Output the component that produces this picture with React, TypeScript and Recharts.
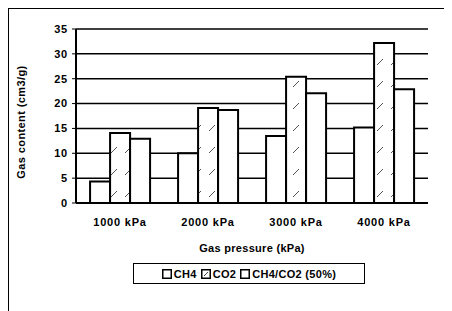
import React from "react";
import { Bar, BarChart, CartesianGrid, Legend, XAxis, YAxis } from "recharts";

const pressures = ["1000 kPa", "2000 kPa", "3000 kPa", "4000 kPa"];
const ch4 = [4.3, 10, 13.5, 15.2];
const co2 = [14.1, 19.1, 25.4, 32.2];
const mix = [12.9, 18.7, 22.1, 22.9];
const yTicks = [0, 5, 10, 15, 20, 25, 30, 35];

const data = pressures.map((p, i) => ({ name: p, ch4: ch4[i], co2: co2[i], mix: mix[i] }));

const FONT = "Arial, 'Liberation Sans', sans-serif";
const tickStyle = { fill: "#000", fontSize: 11, fontWeight: 700, fontFamily: FONT, letterSpacing: 0.8 };

function Swatch({ hatch }: { hatch?: boolean }) {
  return (
    <svg width={10} height={10} style={{ marginRight: 2, verticalAlign: "-1px" }}>
      <rect x={0.75} y={0.75} width={8.5} height={8.5} fill="#fff" stroke="#000" strokeWidth={1.5} />
      {hatch && <line x1={3} y1={7} x2={7} y2={3} stroke="#444" strokeWidth={1} />}
    </svg>
  );
}

function LegendBox() {
  return (
    <div
      style={{
        border: "1.5px solid #000",
        height: 19,
        display: "flex",
        alignItems: "center",
        justifyContent: "center",
        fontFamily: FONT,
        fontSize: 11,
        fontWeight: 700,
        letterSpacing: 0.3,
        color: "#000",
        whiteSpace: "nowrap",
      }}
    >
      <Swatch />
      <span style={{ marginRight: 4 }}>CH4</span>
      <Swatch hatch />
      <span style={{ marginRight: 4 }}>CO2</span>
      <Swatch />
      <span>CH4/CO2 (50%)</span>
    </div>
  );
}

export default function App() {
  return (
    <div
      style={{
        width: 443,
        height: 302,
        borderTop: "1.5px solid #000",
        borderLeft: "1.5px solid #000",
        background: "#fff",
      }}
    >
      <BarChart
        width={443}
        height={302}
        data={data}
        margin={{ top: 20, right: 24, left: 0, bottom: 53 }}
        barCategoryGap="16%"
        barGap={0}
      >
        <defs>
          <pattern id="hatch" patternUnits="userSpaceOnUse" width={14} height={22}>
            <rect x={0} y={0} width={14} height={22} fill="#fff" />
            <line x1={4} y1={12} x2={10} y2={6} stroke="#555" strokeWidth={1} />
          </pattern>
        </defs>
        <CartesianGrid vertical={false} stroke="#000" strokeWidth={1.5} strokeDasharray="" />
        <XAxis
          dataKey="name"
          height={55}
          tickLine={false}
          axisLine={{ stroke: "#000", strokeWidth: 2 }}
          tick={tickStyle}
          tickMargin={9}
          label={{
            value: "Gas pressure (kPa)",
            position: "insideBottom",
            offset: 6,
            style: { ...tickStyle, letterSpacing: 0.3 },
          }}
        />
        <YAxis
          domain={[0, 35]}
          ticks={yTicks}
          width={67}
          interval={0}
          tickSize={4}
          tickMargin={4}
          tickLine={{ stroke: "#000" }}
          axisLine={{ stroke: "#000", strokeWidth: 2 }}
          tick={tickStyle}
          label={({ viewBox }: any) => {
            const cy = viewBox.y + viewBox.height / 2 + 6;
            return (
              <text
                x={12}
                y={cy}
                transform={`rotate(-90 12 ${cy})`}
                textAnchor="middle"
                dominantBaseline="central"
                style={{ ...tickStyle, letterSpacing: 0.4 }}
              >
                Gas content (cm3/g)
              </text>
            );
          }}
        />
        <YAxis
          yAxisId="r"
          orientation="right"
          domain={[0, 35]}
          width={0}
          tick={false}
          tickLine={false}
          axisLine={{ stroke: "#000", strokeWidth: 1.5 }}
        />
        <Legend
          verticalAlign="middle"
          content={<LegendBox />}
          wrapperStyle={{ top: 254, left: 124, width: 232, bottom: "auto" }}
        />
        <Bar dataKey="ch4" name="CH4" fill="#fff" stroke="#000" strokeWidth={2} isAnimationActive={false} />
        <Bar dataKey="co2" name="CO2" fill="url(#hatch)" stroke="#000" strokeWidth={2} isAnimationActive={false} />
        <Bar dataKey="mix" name="CH4/CO2 (50%)" fill="#fff" stroke="#000" strokeWidth={2} isAnimationActive={false} />
      </BarChart>
    </div>
  );
}
